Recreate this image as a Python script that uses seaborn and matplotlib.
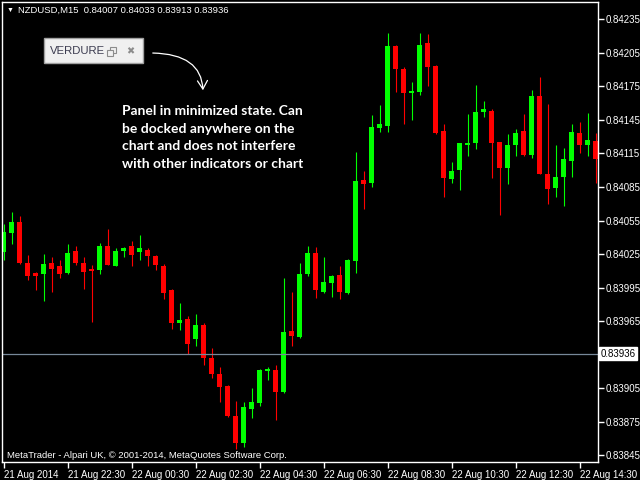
import numpy as np
import pandas as pd
import matplotlib
matplotlib.use("Agg")
import matplotlib.pyplot as plt
import seaborn as sns
from matplotlib.patches import Rectangle


SYMBOL = "NZDUSD,M15"
HEADER_OHLC = "0.84007 0.84033 0.83913 0.83936"
START = "2014-08-21 20:30"
BID = 0.83936

OPENS = [0.84027, 0.84044, 0.84054, 0.84017, 0.84008, 0.84007, 0.84017, 0.84014, 0.84008, 0.84028,
         0.84017, 0.84012, 0.84011, 0.84032, 0.84014, 0.84028, 0.84032, 0.84027, 0.84029, 0.84023,
         0.84014, 0.83993, 0.83963, 0.83967, 0.83949, 0.83962, 0.83932, 0.83918, 0.83907, 0.83880,
         0.83856, 0.83886, 0.83892, 0.83920, 0.83921, 0.83902, 0.83956, 0.83951, 0.84007, 0.84026,
         0.83991, 0.83999, 0.84006, 0.83990, 0.84019, 0.84091, 0.84089, 0.84138, 0.84140, 0.84211,
         0.84191, 0.84169, 0.84170, 0.84214, 0.84193, 0.84135, 0.84092, 0.84100, 0.84123, 0.84124,
         0.84152, 0.84153, 0.84125, 0.84102, 0.84123, 0.84135, 0.84114, 0.84166, 0.84097, 0.84084,
         0.84094, 0.84108, 0.84133, 0.84123, 0.84126]
HIGHS = [0.84052, 0.84063, 0.84059, 0.84024, 0.84009, 0.84025, 0.84022, 0.84020, 0.84034, 0.84032,
         0.84022, 0.84015, 0.84035, 0.84047, 0.84030, 0.84031, 0.84037, 0.84042, 0.84030, 0.84024,
         0.84016, 0.83994, 0.83981, 0.83970, 0.83971, 0.83963, 0.83941, 0.83924, 0.83908, 0.83894,
         0.83893, 0.83905, 0.83922, 0.83924, 0.83926, 0.84004, 0.83991, 0.84017, 0.84032, 0.84031,
         0.84022, 0.84006, 0.84014, 0.84021, 0.84116, 0.84099, 0.84149, 0.84158, 0.84223, 0.84212,
         0.84192, 0.84179, 0.84223, 0.84222, 0.84194, 0.84141, 0.84107, 0.84124, 0.84150, 0.84176,
         0.84162, 0.84155, 0.84125, 0.84132, 0.84137, 0.84150, 0.84172, 0.84183, 0.84159, 0.84123,
         0.84120, 0.84141, 0.84143, 0.84151, 0.84133]
LOWS = [0.84020, 0.84034, 0.84016, 0.84002, 0.83993, 0.83983, 0.83991, 0.84004, 0.84007, 0.84015,
        0.83994, 0.83964, 0.84007, 0.84015, 0.84014, 0.84022, 0.84014, 0.84020, 0.84014, 0.84011,
        0.83985, 0.83958, 0.83957, 0.83936, 0.83943, 0.83926, 0.83914, 0.83893, 0.83879, 0.83851,
        0.83852, 0.83878, 0.83889, 0.83912, 0.83877, 0.83901, 0.83943, 0.83950, 0.84005, 0.83986,
        0.83990, 0.83987, 0.83985, 0.83989, 0.84008, 0.84065, 0.84085, 0.84134, 0.84134, 0.84170,
        0.84141, 0.84145, 0.84167, 0.84175, 0.84132, 0.84076, 0.84089, 0.84082, 0.84113, 0.84119,
        0.84148, 0.84093, 0.84060, 0.84088, 0.84113, 0.84113, 0.84111, 0.84097, 0.84070, 0.84076,
        0.84068, 0.84094, 0.84115, 0.84113, 0.84089]
CLOSES = [0.84045, 0.84054, 0.84017, 0.84005, 0.84005, 0.84016, 0.84012, 0.84007, 0.84026, 0.84017,
          0.84009, 0.84010, 0.84032, 0.84015, 0.84028, 0.84030, 0.84024, 0.84030, 0.84023, 0.84015,
          0.83990, 0.83963, 0.83966, 0.83945, 0.83962, 0.83932, 0.83918, 0.83906, 0.83880, 0.83856,
          0.83888, 0.83893, 0.83921, 0.83922, 0.83902, 0.83955, 0.83952, 0.84007, 0.84026, 0.83993,
          0.84000, 0.84005, 0.83991, 0.84020, 0.84090, 0.84088, 0.84139, 0.84141, 0.84211, 0.84191,
          0.84169, 0.84171, 0.84212, 0.84192, 0.84133, 0.84093, 0.84099, 0.84124, 0.84124, 0.84152,
          0.84155, 0.84124, 0.84102, 0.84123, 0.84133, 0.84114, 0.84166, 0.84097, 0.84083, 0.84094,
          0.84110, 0.84134, 0.84123, 0.84127, 0.84110]

PRICE_TICKS = [0.84235, 0.84205, 0.84175, 0.84145, 0.84115, 0.84085, 0.84055, 0.84025,
               0.83995, 0.83965, 0.83905, 0.83875, 0.83845]
PANEL_NOTE = ("Panel in minimized state. Can\nbe docked anywhere on the\n"
              "chart and does not interfere\nwith other indicators or chart")
COPYRIGHT = "MetaTrader - Alpari UK, \u00a9 2001-2014, MetaQuotes Software Corp."

UP_COLOR = "#00ff00"
DOWN_COLOR = "#ff0000"

sns.set_theme(style="ticks", rc={
    "figure.facecolor": "black",
    "axes.facecolor": "black",
    "axes.edgecolor": "white",
    "xtick.color": "white",
    "ytick.color": "white",
    "text.color": "white",
})
plt.rcParams["font.family"] = ["Liberation Sans", "DejaVu Sans"]

df = pd.DataFrame({"open": OPENS, "high": HIGHS, "low": LOWS, "close": CLOSES})
df["time"] = pd.date_range(START, periods=len(df), freq="15min")
df["bar"] = np.arange(len(df))
df["color"] = np.where(df["close"] >= df["open"], UP_COLOR, DOWN_COLOR)
df["body_low"] = df[["open", "close"]].min(axis=1)
df["body_h"] = (df["close"] - df["open"]).abs().clip(lower=0.000012)

fig = plt.figure(figsize=(6.4, 4.8), dpi=100)
ax = fig.add_axes([2 / 640, 18 / 480, 596 / 640, 460 / 480])

ax.vlines(df["bar"], df["low"], df["high"], colors=df["color"], lw=0.8)
ax.bar(df["bar"], df["body_h"], bottom=df["body_low"], width=0.62,
       color=df["color"], linewidth=0)
ax.axhline(BID, color="#778899", lw=0.9)

ax.set_xlim(-0.19, len(df) - 0.73)
ax.set_ylim(0.83839, 0.842505)
ax.grid(False)
for s in ax.spines.values():
    s.set_color("white")
    s.set_linewidth(1)

ax.yaxis.tick_right()
ax.set_yticks(PRICE_TICKS)
ax.set_yticklabels([f"{v:.5f}" for v in PRICE_TICKS])
ticks = df.iloc[::8]
xlabels = [t.strftime("%d %b %H:%M") for t in ticks["time"]]
xlabels[0] = ticks["time"].iloc[0].strftime("%d %b %Y")
ax.set_xticks(ticks["bar"])
ax.set_xticklabels(xlabels, ha="left")
ax.tick_params(axis="both", colors="white", labelsize=7, length=4, width=1, pad=1.5)
ax.set_xlabel("")
ax.set_ylabel("")

ax.text(1.004, BID, f"{BID:.5f}", transform=ax.get_yaxis_transform(), ha="left",
        va="center", fontsize=7, color="black",
        bbox=dict(boxstyle="square,pad=0.12", facecolor="white", edgecolor="white"))

# overlay in pixel coordinates for the chart annotations
ov = fig.add_axes([0, 0, 1, 1], facecolor="none")
ov.set_xlim(0, 640)
ov.set_ylim(480, 0)
ov.axis("off")

ov.text(10, 10, "\u25bc", fontsize=5, ha="center", va="center", color="white")
ov.text(18, 10, f"{SYMBOL}  {HEADER_OHLC}", fontsize=6.8, ha="left", va="center")
ov.text(7, 455, COPYRIGHT, fontsize=6.8, ha="left", va="center")

ov.add_patch(Rectangle((44, 38), 99, 25, facecolor="#f0f0f0", edgecolor="#a0a0a0", lw=1))
ov.text(50, 51, "VERDURE", fontsize=8.2, color="#3c3c50", ha="left", va="center")
ov.add_patch(Rectangle((110, 47), 6, 6, facecolor="none", edgecolor="#8c8c8c", lw=0.8))
ov.add_patch(Rectangle((107, 50), 6, 6, facecolor="#f0f0f0", edgecolor="#8c8c8c", lw=0.8))
ov.text(130, 51, "\u2716", fontsize=7, color="#8c8c8c", ha="center", va="center",
        family="DejaVu Sans")

ov.annotate("", xy=(203, 93), xytext=(150, 53),
            arrowprops=dict(arrowstyle="->,head_length=0.5,head_width=0.3", color="white",
                            lw=0.9, connectionstyle="angle3,angleA=0,angleB=90"))
ov.text(122, 105, PANEL_NOTE, fontsize=10, fontweight="bold", family="Lato",
        ha="left", va="top", linespacing=1.56)

fig.savefig("out.png", dpi=100, facecolor="black")
